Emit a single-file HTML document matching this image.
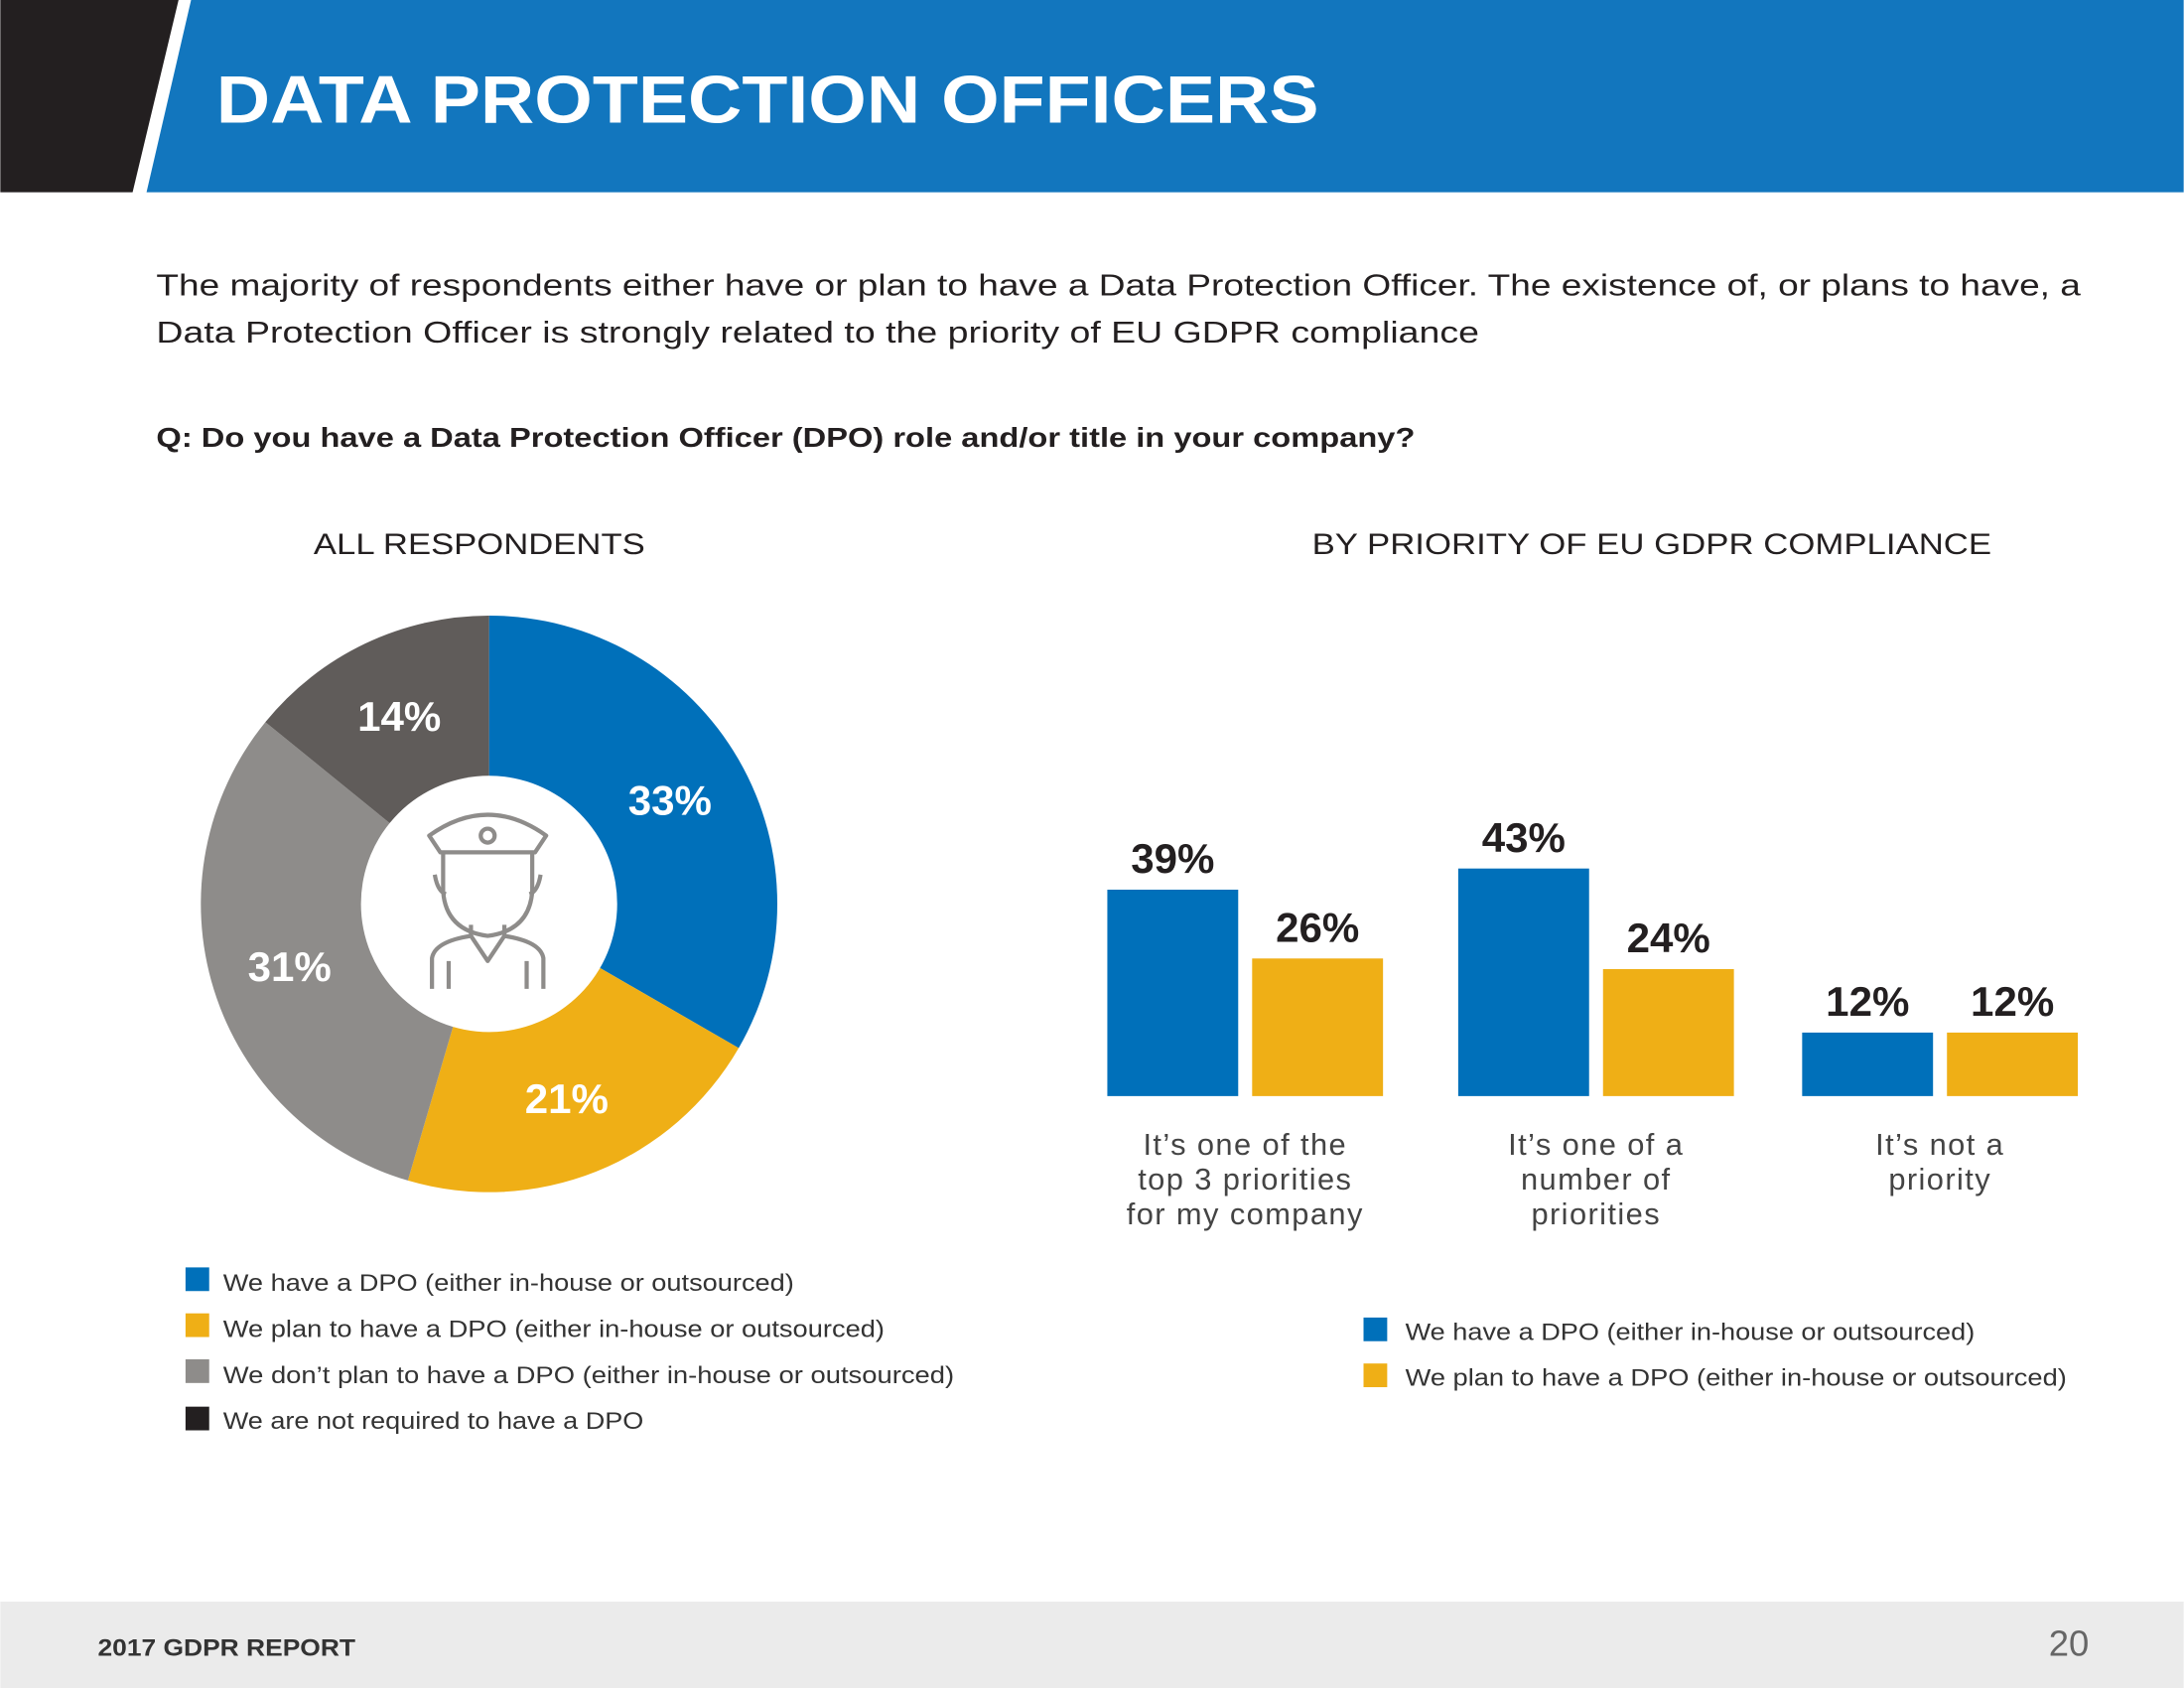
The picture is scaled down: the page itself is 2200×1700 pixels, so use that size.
<!DOCTYPE html>
<html><head><meta charset="utf-8"><style>
html,body{margin:0;padding:0;background:#fff;}
svg{display:block;font-family:"Liberation Sans",sans-serif;}
</style></head><body>
<svg id="page" width="2200" height="1700" viewBox="0 0 1568 1212" xmlns="http://www.w3.org/2000/svg">
<g>
<polygon points="0,0 128,0 95,138 0,138" fill="#231F20"/>
<polygon points="137,0 1568,0 1568,138 105,138" fill="#1276BE"/>
<text x="155" y="88" fill="#fff" font-size="48" font-weight="bold" textLength="792" lengthAdjust="spacingAndGlyphs">DATA PROTECTION OFFICERS</text>
</g>
<g fill="#231F20" font-size="22">
<text x="112" y="212" textLength="1382" lengthAdjust="spacingAndGlyphs">The majority of respondents either have or plan to have a Data Protection Officer. The existence of, or plans to have, a</text>
<text x="112" y="246" textLength="950" lengthAdjust="spacingAndGlyphs">Data Protection Officer is strongly related to the priority of EU GDPR compliance</text>
</g>
<text x="112" y="321" font-size="20" font-weight="bold" fill="#231F20" textLength="904" lengthAdjust="spacingAndGlyphs">Q: Do you have a Data Protection Officer (DPO) role and/or title in your company?</text>
<text x="225" y="398" font-size="21" fill="#231F20" textLength="238" lengthAdjust="spacingAndGlyphs">ALL RESPONDENTS</text>
<text x="942" y="398" font-size="21" fill="#231F20" textLength="488" lengthAdjust="spacingAndGlyphs">BY PRIORITY OF EU GDPR COMPLIANCE</text>

<g id="donut"></g>
<g fill="none" stroke="#8E8C8A" stroke-width="3" stroke-linejoin="round">
<path d="M308,600 Q350,570 392,600 L384,612 L316,612 Z"/>
<circle cx="350" cy="600" r="5"/>
<path d="M318,612 L318,640 Q320,668 350,672 Q380,668 382,640 L382,612"/>
<path d="M312,628 Q314,640 320,642 M388,628 Q386,640 380,642"/>
<path d="M310,710 L310,688 Q312,676 338,672 L350,690 L362,672 Q388,676 390,688 L390,710"/>
<path d="M338,672 L338,664 M362,672 L362,664"/>
<path d="M322,690 L322,710 M378,690 L378,710"/>
</g>

<g font-size="17" fill="#333">
<rect x="133" y="910" width="17" height="17" fill="#0070BA"/><text x="160" y="927" textLength="410" lengthAdjust="spacingAndGlyphs">We have a DPO (either in-house or outsourced)</text>
<rect x="133" y="943" width="17" height="17" fill="#EFAF16"/><text x="160" y="960" textLength="475" lengthAdjust="spacingAndGlyphs">We plan to have a DPO (either in-house or outsourced)</text>
<rect x="133" y="976" width="17" height="17" fill="#8E8C8A"/><text x="160" y="993" textLength="525" lengthAdjust="spacingAndGlyphs">We don’t plan to have a DPO (either in-house or outsourced)</text>
<rect x="133" y="1010" width="17" height="17" fill="#231F20"/><text x="160" y="1026" textLength="302" lengthAdjust="spacingAndGlyphs">We are not required to have a DPO</text>
</g>

<g id="bars"></g>

<g font-size="17" fill="#333">
<rect x="979" y="946" width="17" height="17" fill="#0070BA"/><text x="1009" y="962" textLength="409" lengthAdjust="spacingAndGlyphs">We have a DPO (either in-house or outsourced)</text>
<rect x="979" y="979" width="17" height="17" fill="#EFAF16"/><text x="1009" y="995" textLength="475" lengthAdjust="spacingAndGlyphs">We plan to have a DPO (either in-house or outsourced)</text>
</g>

<g>
<rect x="0" y="1150" width="1568" height="62" fill="#EBEBEB"/>
<text x="70" y="1189" font-size="17" font-weight="bold" fill="#333" textLength="185" lengthAdjust="spacingAndGlyphs">2017 GDPR REPORT</text>
<text x="1500" y="1189" font-size="26" fill="#666" text-anchor="end">20</text>
</g>
</svg>
<script>
const sliceLabels = ["We have a DPO","We plan to have a DPO","We don't plan to have a DPO","Not required"];
const sliceValues = [33, 21, 31, 14];
const sliceColors = ["#0070BA","#EFAF16","#8E8C8A","#605C5A"];

const barCategories = [["It’s one of the","top 3 priorities","for my company"],["It’s one of a","number of","priorities"],["It’s not a","priority"]];
const haveValues = [39, 43, 12];
const planValues = [26, 24, 12];

const NS = "http://www.w3.org/2000/svg";
function mk(tag, attrs){const e=document.createElementNS(NS,tag);for(const k in attrs)e.setAttribute(k,attrs[k]);return e;}

// donut
const donut = document.getElementById('donut');
const cx=351, cy=649, R=207, r0=92;
const total = sliceValues.reduce((a,b)=>a+b,0);
function angle(v){return v/total*2*Math.PI;}
function pt(a,rad){return [cx+rad*Math.sin(a), cy-rad*Math.cos(a)];}
let cum=0;
sliceValues.forEach((v,i)=>{
  const a0=angle(cum), a1=angle(cum+v); cum+=v;
  const large=(a1-a0)>Math.PI?1:0;
  const p0=pt(a0,R),p1=pt(a1,R);
  const p=mk('path',{d:`M${cx},${cy} L${p0[0]},${p0[1]} A${R},${R} 0 ${large} 1 ${p1[0]},${p1[1]} Z`,fill:sliceColors[i]});
  
  
  donut.appendChild(p);
  const m=(a0+a1)/2, lp=pt(m,150);
  const t=mk('text',{x:lp[0],y:lp[1]+11,'text-anchor':'middle','font-size':30,'font-weight':'bold',fill:'#fff'});
  t.textContent=v+'%';
  
  
  donut.appendChild(t);
});
const hole=mk('circle',{cx:cx,cy:cy,r:r0,fill:'#fff'});


donut.appendChild(hole);

// bars
const bars=document.getElementById('bars');
const baseY=787, pxPer=3.8, bw=94;
const groupX=[795,1047,1294];
function yScale(v){return baseY-v*pxPer;}
function addBar(x,v,color,name){
  const b=mk('rect',{x:x,y:yScale(v),width:bw,height:baseY-yScale(v),fill:color});
  
  
  bars.appendChild(b);
  const t=mk('text',{x:x+bw/2,y:yScale(v)-12,'text-anchor':'middle','font-size':30,'font-weight':'bold',fill:'#231F20'});
  t.textContent=v+'%';
  
  
  bars.appendChild(t);
}
barCategories.forEach((lines,i)=>{
  const gx=groupX[i];
  addBar(gx,haveValues[i],'#0070BA','bar-have-'+(i+1));
  addBar(gx+bw+10,planValues[i],'#EFAF16','bar-plan-'+(i+1));
  const t=mk('text',{'text-anchor':'middle','font-size':22,fill:'#444','letter-spacing':'1'});
  
  
  lines.forEach((ln,j)=>{const s=mk('tspan',{x:gx+bw+5,y:829+j*25});s.textContent=ln;t.appendChild(s);});
  bars.appendChild(t);
});
</script>
</body></html>
